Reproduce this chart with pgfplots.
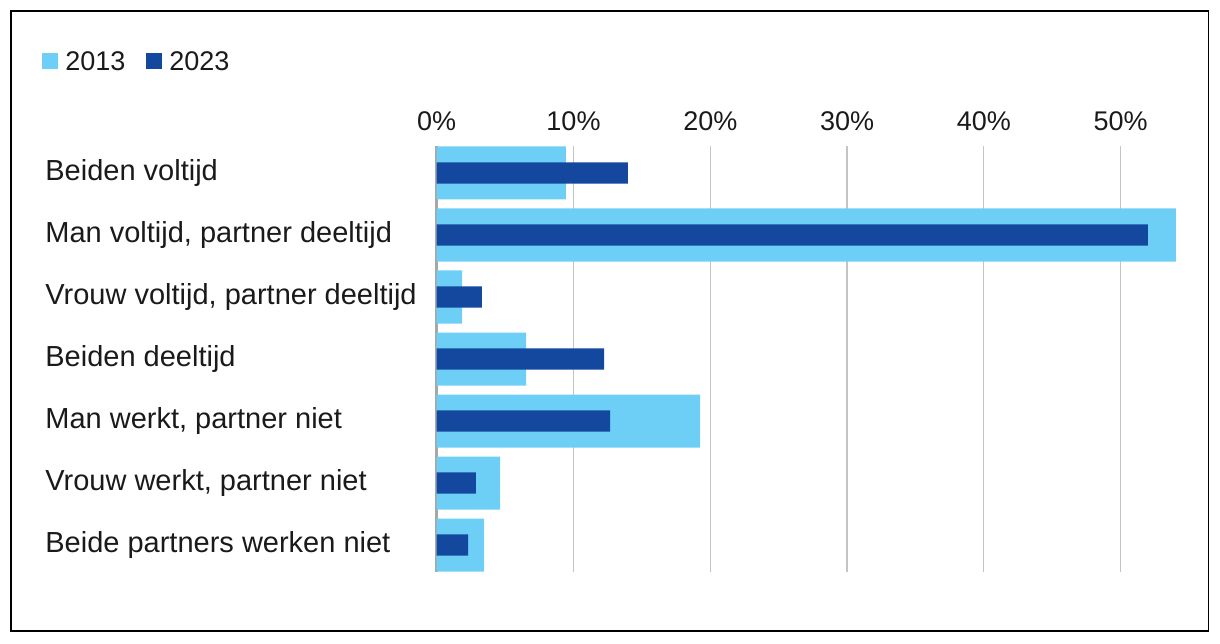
\documentclass[border=0pt]{standalone}
\usepackage{pgfplots}
\pgfplotsset{compat=1.18}
\usepackage{fontspec}
\setmainfont{Liberation Sans}
\definecolor{light}{HTML}{6DCFF6}
\definecolor{dark}{HTML}{13489E}
\definecolor{gridc}{HTML}{C4C4C4}
\definecolor{txt}{HTML}{1A1A1A}
\begin{document}
\begin{tikzpicture}
\useasboundingbox (0bp,0bp) rectangle (610bp,-322bp);
\draw[line width=0.9bp] (5.5bp,-5.5bp) rectangle (604.25bp,-315.5bp);
\begin{axis}[
  at={(218.35bp,-286bp)}, anchor=south west,
  scale only axis, width=376.2bp, height=213bp,
  xmin=0, xmax=55, ymin=-0.435, ymax=6.435, y dir=reverse,
  axis line style={draw=none}, major tick length=0pt,
  /pgf/number format/assume math mode=true,
  xtick={0,10,20,30,40,50},
  xticklabel={\pgfmathprintnumber{\tick}\%},
  xticklabel pos=upper,
  xticklabel style={anchor=base, yshift=8bp, font=\fontsize{13.5bp}{16bp}\selectfont, text=txt},
  ytick={0,1,2,3,4,5,6},
  yticklabels={Beiden voltijd, Man voltijd{,} partner deeltijd, Vrouw voltijd{,} partner deeltijd, Beiden deeltijd, Man werkt{,} partner niet, Vrouw werkt{,} partner niet, Beide partners werken niet},
  yticklabel style={anchor=west, xshift=-195.85bp, inner xsep=0pt, font=\fontsize{14.5bp}{17bp}\selectfont, text=txt},
  xmajorgrids, grid style={gridc, line width=0.6bp},
  extra x ticks={0}, extra x tick labels={},
  extra x tick style={grid style={gridc!85!black, line width=1.4bp}},
  legend columns=2,
  legend style={draw=none, fill=none, inner sep=0pt,
    at={(axis description cs:-0.5246,1.1970)}, anchor=west,
    font=\fontsize{13.5bp}{16bp}\selectfont, text=txt,
    nodes={inner sep=0pt},
    /tikz/every odd column/.append style={column sep=3.5bp},
    /tikz/every even column/.append style={column sep=10.5bp}},
  legend image code/.code={\path[#1, draw=none] (0bp,-3.3bp) rectangle (8bp,4.7bp);},
]
\addplot[xbar, bar width=0.855, bar shift=0pt, fill=light, draw=none]
  coordinates {(9.45,0) (54.04,1) (1.85,2) (6.53,3) (19.25,4) (4.63,5) (3.46,6)};
\addlegendentry{2013}
\addplot[xbar, bar width=0.344, bar shift=0pt, fill=dark, draw=none]
  coordinates {(13.98,0) (51.99,1) (3.31,2) (12.23,3) (12.67,4) (2.87,5) (2.29,6)};
\addlegendentry{2023}
\end{axis}
\end{tikzpicture}
\end{document}
